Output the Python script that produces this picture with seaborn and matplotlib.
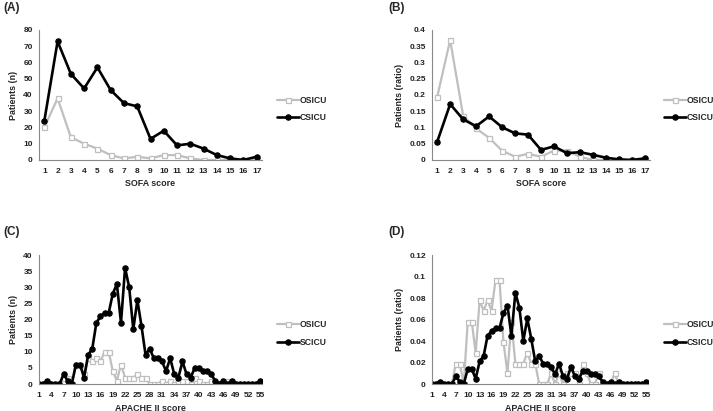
import numpy as np
import pandas as pd
import matplotlib
matplotlib.use("Agg")
import matplotlib.pyplot as plt
import seaborn as sns

# ---------------- data ----------------
sofa_x = list(range(1, 18))
sofa_os_n = [20, 38, 14, 10, 7, 3, 1, 2, 1, 3, 3, 1, 0, 0, 0, 0, 0]
sofa_cs_n = [24, 73, 53, 44, 57, 43, 35, 33, 13, 18, 9, 10, 7, 3, 1, 0, 2]
sofa_os_r = [0.194, 0.369, 0.136, 0.097, 0.068, 0.029, 0.010, 0.019, 0.010,
             0.029, 0.029, 0.010, 0, 0, 0, 0, 0]
sofa_cs_r = [0.056, 0.172, 0.125, 0.104, 0.134, 0.101, 0.082, 0.078, 0.031,
             0.042, 0.021, 0.024, 0.016, 0.007, 0.002, 0, 0.005]

apache_x = list(range(1, 56))
apache_os_n = [0, 0, 0, 0, 0, 0, 2, 2, 0, 6, 6, 3, 8, 7, 8, 7, 10, 10, 4, 1,
               6, 2, 2, 2, 3, 2, 2, 0, 0, 0, 1, 0, 1, 0, 1, 1, 1, 0, 2, 1,
               0, 0, 1, 0, 0, 0, 1, 0, 0, 0, 0, 0, 0, 0, 0]
apache_cs_n = [0, 0, 1, 0, 0, 0, 3, 1, 0, 6, 6, 2, 9, 11, 19, 21, 22, 22, 28, 31,
               19, 36, 30, 17, 26, 18, 9, 11, 8, 8, 7, 4, 8, 3, 2, 7, 3, 2, 5, 5,
               4, 4, 3, 1, 0, 1, 0, 1, 0, 0, 0, 0, 0, 0, 1]
apache_os_r = [0, 0, 0, 0, 0, 0, 0.019, 0.019, 0, 0.058, 0.058, 0.029, 0.078, 0.068,
               0.078, 0.068, 0.097, 0.097, 0.039, 0.010, 0.058, 0.019, 0.019, 0.019,
               0.029, 0.019, 0.019, 0, 0, 0, 0.010, 0, 0.010, 0, 0.010, 0.010, 0.010,
               0, 0.019, 0.010, 0, 0, 0.010, 0, 0, 0, 0.010, 0, 0, 0, 0, 0, 0, 0, 0]
apache_cs_r = [0, 0, 0.002, 0, 0, 0, 0.007, 0.002, 0, 0.014, 0.014, 0.005, 0.021,
               0.026, 0.045, 0.049, 0.052, 0.052, 0.066, 0.073, 0.045, 0.085, 0.071,
               0.040, 0.061, 0.042, 0.021, 0.026, 0.019, 0.019, 0.016, 0.009, 0.019,
               0.007, 0.005, 0.016, 0.007, 0.005, 0.012, 0.012, 0.009, 0.009, 0.007,
               0.002, 0, 0.002, 0, 0.002, 0, 0, 0, 0, 0, 0, 0.002]

# ---------------- style ----------------
sns.set_theme(style="white")
plt.rcParams['font.family'] = ['Liberation Sans', 'DejaVu Sans']
plt.rcParams['font.weight'] = 'bold'

W, H = 713, 411
fig = plt.figure(figsize=(W / 100, H / 100), dpi=100)

GRAY = '#BFBFBF'
SPINE = '#898989'
FS = 6.0


def px_axes(l, t, r, b):
    return fig.add_axes([l / W, 1 - b / H, (r - l) / W, (b - t) / H])


def panel(ax, x, os_v, cs_v, cs_name, xlim, xticks, ylim, yticks, ylabels,
          xlabel, ylabel, leg_x, leg_y):
    df_os = pd.DataFrame({'x': x, 'y': os_v})
    df_cs = pd.DataFrame({'x': x, 'y': cs_v})
    sns.lineplot(data=df_os, x='x', y='y', ax=ax, color=GRAY, lw=1.6,
                 marker='s', markersize=3.6, markerfacecolor='white',
                 markeredgecolor=GRAY, markeredgewidth=0.9, label='OSICU')
    sns.lineplot(data=df_cs, x='x', y='y', ax=ax, color='black', lw=1.9,
                 marker='o', markersize=3.9, markerfacecolor='black',
                 markeredgecolor='black', label=cs_name)
    ax.set_xlim(*xlim)
    ax.set_ylim(*ylim)
    ax.set_xticks(xticks)
    ax.set_xticklabels([str(v) for v in xticks], fontsize=FS, fontweight='bold')
    ax.set_yticks(yticks)
    ax.set_yticklabels(ylabels, fontsize=FS, fontweight='bold')
    ax.tick_params(axis='y', length=0, pad=4.5, colors='#222222')
    ax.tick_params(axis='x', length=0, pad=6, colors='#222222')
    for s in ['top', 'right']:
        ax.spines[s].set_visible(False)
    for s in ['left', 'bottom']:
        ax.spines[s].set_color(SPINE)
        ax.spines[s].set_linewidth(0.8)
    ax.set_xlabel(xlabel, fontsize=FS + 0.4, fontweight='bold', labelpad=3)
    ax.set_ylabel(ylabel, fontsize=FS + 0.4, fontweight='bold', labelpad=3.5)
    ax.grid(False)
    ax.legend(loc='center left', bbox_to_anchor=(leg_x / W, 1 - leg_y / H),
              bbox_transform=fig.transFigure, frameon=False,
              prop={'size': FS + 0.2, 'weight': 'bold'}, handlelength=2.5,
              handletextpad=0.1, labelspacing=0.95, borderpad=0, borderaxespad=0)


def fmt(vals):
    out = []
    for v in vals:
        s = ('%.2f' % v).rstrip('0').rstrip('.')
        out.append(s if s else '0')
    return out


axA = px_axes(39, 30, 262, 160)
yA = list(range(0, 81, 10))
panel(axA, sofa_x, sofa_os_n, sofa_cs_n, 'CSICU', (0.6, 17.4), sofa_x,
      (0, 80), yA, [str(v) for v in yA], 'SOFA score', 'Patients (n)', 277, 109)

axB = px_axes(432, 30, 650, 160)
yB = [0, 0.05, 0.1, 0.15, 0.2, 0.25, 0.3, 0.35, 0.4]
panel(axB, sofa_x, sofa_os_r, sofa_cs_r, 'CSICU', (0.6, 17.4), sofa_x,
      (0, 0.4), yB, fmt(yB), 'SOFA score', 'Patients (ratio)', 664, 109)

xt = list(range(1, 56, 3))
axC = px_axes(39, 255, 262, 384)
yC = list(range(0, 41, 5))
panel(axC, apache_x, apache_os_n, apache_cs_n, 'SCICU', (1, 55.4), xt,
      (0, 40), yC, [str(v) for v in yC], 'APACHE II score', 'Patients (n)', 277, 333.5)

axD = px_axes(432, 255, 648, 384)
yD = [0, 0.02, 0.04, 0.06, 0.08, 0.1, 0.12]
panel(axD, apache_x, apache_os_r, apache_cs_r, 'CSICU', (1, 55.4), xt,
      (0, 0.12), yD, fmt(yD), 'APACHE II score', 'Patients (ratio)', 664, 333.5)

for lab, x, y in [('(A)', 3, 8), ('(B)', 388, 8), ('(C)', 3, 232), ('(D)', 388, 232)]:
    fig.text(x / W, 1 - y / H, lab, fontsize=8.5, fontweight='bold', va='center', ha='left')

fig.savefig('out.png', dpi=100)
